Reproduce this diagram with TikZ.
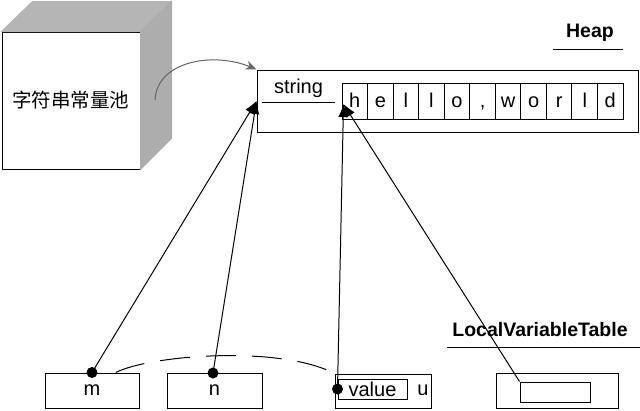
\documentclass[tikz,border=0pt]{standalone}
\usepackage{fontspec}
\setmainfont{Liberation Sans}
\newfontfamily\cjkfont{Noto Sans CJK SC}
\usepackage{tikz}
\usetikzlibrary{arrows.meta,calc,positioning}

\begin{document}
\begin{tikzpicture}[x=1pt, y=-1pt,
  txt/.style={font=\fontsize{20}{22}\selectfont},
  title/.style={font=\fontsize{19.5}{22}\selectfont\bfseries},
  box/.style={draw, line width=1pt, inner sep=0pt, txt},
  cell/.style={box, minimum width=25.55pt, minimum height=36pt, text height=14.5pt, text depth=1pt},
  ref/.style={-{Latex[length=13pt, width=10pt]}, line width=1pt},
  dot/.style={circle, fill=black, inner sep=0pt, minimum size=11pt}]

\useasboundingbox (0,0) rectangle (640,410);

% Pool
\node[box, minimum width=138pt, minimum height=137pt] (pool) at (71,100.5) {};
\fill[gray!58, draw, line width=1pt] (pool.north west) -- ++(31,-30) -- ++(138,0)
      -- (pool.north east) -- cycle;
\fill[gray!64, draw, line width=1pt] (pool.north east) -- ++(31,-30) -- ++(0,137)
      -- (pool.south east) -- cycle;
\node[font=\fontsize{19.5}{20}\cjkfont] at (pool.center) {字符串常量池};

% Heap
\node[title] (heaplbl) at (590,33) {Heap};
\draw[line width=1pt] (553,49) -- (623,49);
\node[box, minimum width=381pt, minimum height=62pt] (heap) at (447.5,101) {};
\node[txt, anchor=south, minimum width=73pt, inner xsep=0pt, inner ysep=4pt] (str)
      at (298.5,102) {string};
\draw[line width=1pt] (str.south west) -- (str.south east);
\foreach \c [count=\i] in {h,e,l,l,o,{,},w,o,r,l,d}
  \node[cell] (c\i) at ({342+25.55*(\i-0.5)},101) {\c};

% Pool -> Heap
\coordinate (poolout) at (155,100);
\draw[gray!80!black, line width=1pt, -{Stealth[length=11pt, width=9pt]}]
      (poolout) .. controls (157,60) and (215,52) .. (heap.north west);

% LocalVariableTable
\node[title] (lvtlbl) at (540,330) {LocalVariableTable};
\draw[line width=1pt] (447,347) -- (640,347);

\node[box, minimum width=94pt, minimum height=35pt] (m) at (92,390.5) {m};
\node[box, minimum width=95pt, minimum height=35pt] (n) at (214.5,390.5) {n};
\node[box, minimum width=96pt, minimum height=34pt] (val) at (383,391) {};
\node[box, minimum width=69pt, minimum height=20pt] (valin) at (372.5,389) {value};
\node[txt] (u) at (423,390) {u};
\node[box, minimum width=122pt, minimum height=35pt] (r4) at (557,390.5) {};
\node[box, minimum width=70pt, minimum height=20pt] (r4in) at (555,392) {};

\node[dot] (mdot) at (m.north) {};
\node[dot] (ndot) at (213,373) {};
\node[dot] (vdot) at (valin.west) {};

% Riferimenti
\coordinate (hin) at ($(c1.west)+(2,3)$);
\draw[ref] (mdot.center) -- (heap.west);
\draw[ref] (ndot.center) -- (heap.west);
\draw[ref] (vdot.center) -- (hin);
\draw[ref] (r4in.north west) -- (hin);

% m -> value
\draw[line width=1pt, dash pattern=on 30pt off 16pt]
      ($(m.north)!0.5!(m.north east)$) .. controls (150,355) and (280,345) .. (val.north west);

\end{tikzpicture}
\end{document}
